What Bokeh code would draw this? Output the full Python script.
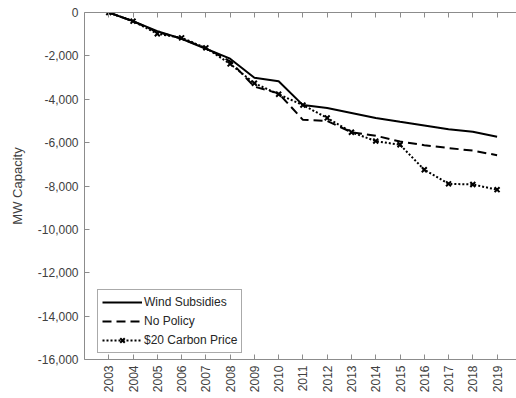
from bokeh.plotting import figure
from bokeh.models import Range1d, LinearAxis, FixedTicker, NumeralTickFormatter, Legend, LegendItem
from bokeh.embed import file_html
from bokeh.resources import INLINE
import math

years = list(range(2003, 2020))
wind_subsidies = [0, -400, -860, -1210, -1670, -2130, -3010, -3170, -4270, -4400,
                  -4630, -4860, -5040, -5210, -5380, -5500, -5730]
no_policy = [0, -400, -900, -1200, -1650, -2250, -3420, -3730, -4950, -5000,
             -5520, -5680, -5950, -6120, -6250, -6370, -6580]
carbon_20 = [0, -400, -980, -1170, -1630, -2370, -3260, -3770, -4270, -4860,
             -5520, -5930, -6100, -7250, -7900, -7930, -8170]
y_ticks = list(range(-16000, 1, 2000))
series_names = ["Wind Subsidies", "No Policy", "$20 Carbon Price"]

FONT = "Liberation Sans"
AX = "#8c8c8c"
TXT = "#404040"

p = figure(width=516, height=398, output_backend="svg", toolbar_location=None,
           x_range=Range1d(2002, 2019.8), y_range=Range1d(-16000, 0),
           min_border_left=84, min_border_right=0, min_border_top=12, min_border_bottom=39)
p.outline_line_color = None
p.xgrid.visible = False
p.ygrid.visible = False
p.background_fill_color = "white"
p.border_fill_color = "white"

r1 = p.line(years, wind_subsidies, line_color="black", line_width=2)
r2 = p.line(years, no_policy, line_color="black", line_width=2, line_dash="9 5")
r3 = p.line(years, carbon_20, line_color="black", line_width=2, line_dash="2 2")
r3m = p.scatter(years, carbon_20, marker="x", size=7, line_color="black", line_width=2)

xa = p.xaxis[0]
xa.ticker = FixedTicker(ticks=years)
xa.major_label_orientation = math.pi / 2
xa.major_tick_in = 5
xa.major_tick_out = 0
xa.minor_tick_line_color = None
xa.axis_line_color = AX
xa.major_tick_line_color = AX
xa.major_label_text_font = FONT
xa.major_label_text_font_size = "12px"
xa.major_label_text_color = TXT
xa.major_label_standoff = 6

ya = p.yaxis[0]
ya.ticker = FixedTicker(ticks=y_ticks)
ya.formatter = NumeralTickFormatter(format="0,0")
ya.major_tick_in = 5
ya.major_tick_out = 0
ya.minor_tick_line_color = None
ya.axis_line_color = AX
ya.major_tick_line_color = AX
ya.major_label_text_font = FONT
ya.major_label_text_font_size = "12px"
ya.major_label_text_color = TXT
ya.major_label_standoff = 6
ya.axis_label = "MW Capacity"
ya.axis_label_text_font = FONT
ya.axis_label_text_font_size = "13px"
ya.axis_label_text_font_style = "normal"
ya.axis_label_text_color = TXT
ya.axis_label_standoff = 10

top = LinearAxis(ticker=FixedTicker(ticks=years),
                 major_label_overrides={y: "" for y in years},
                 major_label_text_font_size="1px",
                 major_label_standoff=0, major_tick_in=5, major_tick_out=0,
                 minor_tick_line_color=None, axis_line_color=AX, major_tick_line_color=AX)
p.add_layout(top, "above")

legend = Legend(items=[LegendItem(label=series_names[0], renderers=[r1]),
                       LegendItem(label=series_names[1], renderers=[r2]),
                       LegendItem(label=series_names[2], renderers=[r3, r3m])],
                location=(13, 6), glyph_width=40, glyph_height=16, label_height=16,
                spacing=3, padding=4, margin=0, label_standoff=2,
                label_text_font=FONT, label_text_font_size="12px", label_text_color="#262626",
                border_line_color="#555555", border_line_width=1, background_fill_alpha=1)
p.add_layout(legend, "center")

open("out.html", "w").write(file_html(p, INLINE))
